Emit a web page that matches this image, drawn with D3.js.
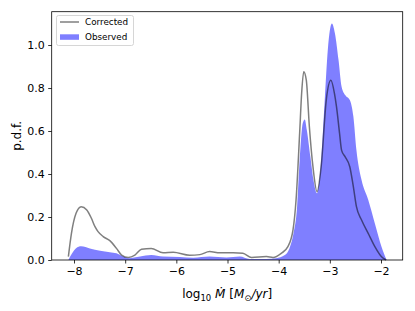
<!DOCTYPE html>
<html><head><meta charset="utf-8">
<script src="https://cdn.jsdelivr.net/npm/d3@7"></script>
<style>body{margin:0;background:#fff}svg{display:block}text{font-family:"DejaVu Sans",sans-serif;fill:#000}</style>
</head><body><svg id="c" width="415" height="311"></svg>
<script>
// Corrected (line)
const corrX = [-8.11,-8.05,-7.96,-7.86,-7.75,-7.66,-7.59,-7.53,-7.43,-7.30,-7.17,-7.07,-6.94,-6.81,-6.68,-6.49,-6.26,-6.06,-5.74,-5.54,-5.35,-5.15,-4.89,-4.70,-4.53,-4.24,-4.11,-3.95,-3.82,-3.72,-3.66,-3.59,-3.55,-3.51,-3.46,-3.40,-3.33,-3.25,-3.17,-3.07,-2.98,-2.91,-2.87,-2.81,-2.77,-2.70,-2.61,-2.54,-2.48,-2.38,-2.25,-2.12,-1.99,-1.90];
const corrY = [0.016,0.124,0.217,0.248,0.233,0.194,0.155,0.132,0.109,0.09,0.054,0.023,0.012,0.023,0.05,0.054,0.034,0.036,0.022,0.025,0.039,0.034,0.034,0.031,0.012,0.016,0.012,0.031,0.062,0.14,0.28,0.59,0.78,0.876,0.837,0.62,0.434,0.318,0.434,0.744,0.836,0.775,0.713,0.589,0.51,0.48,0.434,0.34,0.248,0.186,0.124,0.062,0.015,0.0];
// Observed (filled)
const obsX = [-8.11,-8.04,-7.96,-7.86,-7.69,-7.49,-7.30,-7.17,-7.04,-6.94,-6.71,-6.49,-6.26,-5.93,-5.67,-5.35,-5.02,-4.76,-4.57,-4.24,-4.05,-3.88,-3.79,-3.71,-3.64,-3.59,-3.53,-3.49,-3.45,-3.38,-3.32,-3.25,-3.17,-3.10,-3.04,-2.96,-2.90,-2.83,-2.77,-2.70,-2.61,-2.54,-2.48,-2.38,-2.25,-2.12,-1.99,-1.89];
const obsY = [0.0,0.03,0.055,0.064,0.054,0.043,0.036,0.031,0.016,0.008,0.016,0.023,0.016,0.014,0.011,0.016,0.012,0.016,0.005,0.005,0.008,0.023,0.054,0.124,0.248,0.465,0.636,0.654,0.605,0.48,0.372,0.31,0.465,0.744,0.977,1.10,1.054,0.93,0.806,0.767,0.744,0.667,0.51,0.372,0.28,0.17,0.062,0.0];
const xTicks = [-8,-7,-6,-5,-4,-3,-2];
const yTicks = [0.0,0.2,0.4,0.6,0.8,1.0];
const seriesNames = ["Corrected","Observed"];

const svg = d3.select("#c");
const L=51.7, R=402.7, T=11.7, B=260;
const x = d3.scaleLinear().domain([-8.436,-1.576]).range([L,R]);
const y = d3.scaleLinear().domain([0,1.155]).range([B,T]);

const obs = obsX.map((v,i)=>[v,obsY[i]]);
const cor = corrX.map((v,i)=>[v,corrY[i]]);

svg.append("path").datum(obs)
  .attr("d", d3.area().x(d=>x(d[0])).y0(y(0)).y1(d=>y(d[1])).curve(d3.curveMonotoneX))
  .attr("fill","#0000ff").attr("fill-opacity",0.5);
svg.append("path").datum(cor)
  .attr("d", d3.line().x(d=>x(d[0])).y(d=>y(d[1])).curve(d3.curveMonotoneX))
  .attr("fill","none").attr("stroke","#000").attr("stroke-opacity",0.5).attr("stroke-width",1.5);

// axes
const xa = svg.append("g").attr("transform",`translate(0,${B})`)
  .call(d3.axisBottom(x).tickValues(xTicks).tickSize(3.5).tickPadding(3.5).tickFormat(d=>"\u2212"+Math.abs(d)));
const ya = svg.append("g").attr("transform",`translate(${L},0)`)
  .call(d3.axisLeft(y).tickValues(yTicks).tickSize(3.5).tickPadding(3.5).tickFormat(d3.format(".1f")));
[xa,ya].forEach(g=>{g.select(".domain").remove();g.selectAll("line").attr("stroke","#000").attr("stroke-width",0.8);g.selectAll("text").attr("font-size",11).attr("font-family","DejaVu Sans");});
svg.append("rect").attr("x",L).attr("y",T).attr("width",R-L).attr("height",B-T)
  .attr("fill","none").attr("stroke","#000").attr("stroke-width",0.8);

// labels
svg.append("text").attr("transform",`translate(21,${(T+B)/2}) rotate(-90)`).attr("text-anchor","middle")
  .attr("font-size",12).text("p.d.f.");
const xl = svg.append("text").attr("x",(L+R)/2).attr("y",298).attr("text-anchor","middle").attr("font-size",12);
xl.append("tspan").text("log");
xl.append("tspan").attr("font-size",8.5).attr("dy",2.5).text("10");
xl.append("tspan").attr("dy",-2.5).text(" ");
xl.append("tspan").attr("font-style","italic").text("\u1E40");
xl.append("tspan").text(" [");
xl.append("tspan").attr("font-style","italic").text("M");
xl.append("tspan").attr("font-size",8.5).attr("dy",2.5).text("\u2299");
xl.append("tspan").attr("dy",-2.5).attr("font-style","italic").text("/yr");
xl.append("tspan").text("]");

// legend
const lg = svg.append("g");
lg.append("rect").attr("x",56.5).attr("y",15.5).attr("width",77).attr("height",30).attr("rx",2)
  .attr("fill","#fff").attr("fill-opacity",0.8).attr("stroke","#ccc").attr("stroke-width",0.8);
lg.append("line").attr("x1",60).attr("x2",79).attr("y1",22).attr("y2",22)
  .attr("stroke","#000").attr("stroke-opacity",0.5).attr("stroke-width",1.5);
lg.append("rect").attr("x",60).attr("y",34.3).attr("width",19).attr("height",5.5)
  .attr("fill","#0000ff").attr("fill-opacity",0.5);
lg.append("text").attr("x",85).attr("y",25.2).attr("font-size",8.8).text(seriesNames[0]);
lg.append("text").attr("x",85).attr("y",40.2).attr("font-size",8.8).text(seriesNames[1]);
</script></body></html>
